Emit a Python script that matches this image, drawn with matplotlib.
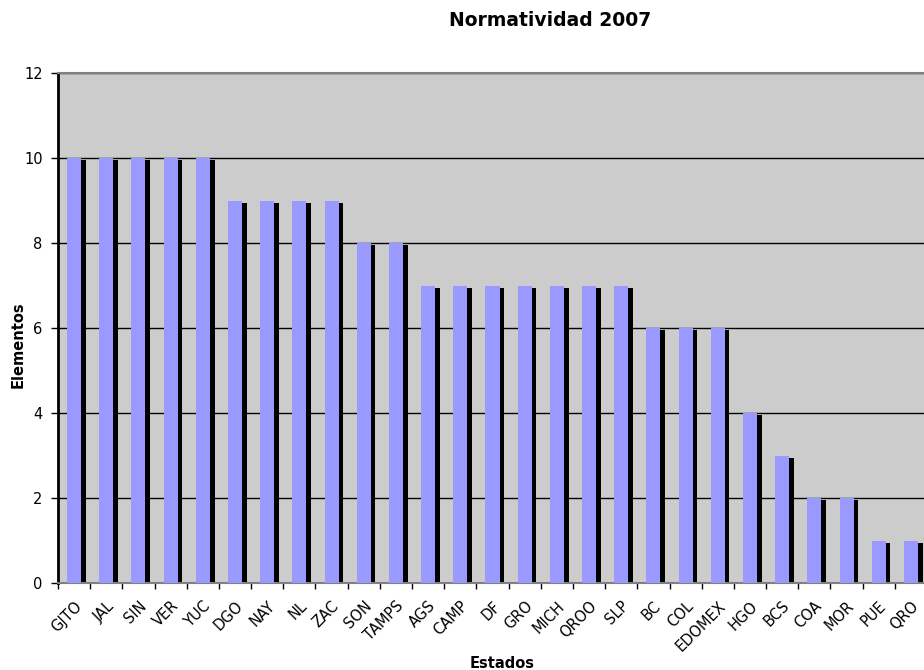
import numpy as np
import matplotlib
matplotlib.use('Agg')
import matplotlib.pyplot as plt
from matplotlib.transforms import offset_copy

estados = ['GJTO', 'JAL', 'SIN', 'VER', 'YUC', 'DGO', 'NAY', 'NL', 'ZAC', 'SON',
           'TAMPS', 'AGS', 'CAMP', 'DF', 'GRO', 'MICH', 'QROO', 'SLP', 'BC', 'COL',
           'EDOMEX', 'HGO', 'BCS', 'COA', 'MOR', 'PUE', 'QRO']
elementos = [10, 10, 10, 10, 10, 9, 9, 9, 9, 8,
             8, 7, 7, 7, 7, 7, 7, 7, 6, 6,
             6, 4, 3, 2, 2, 1, 1]
y_ticks = [0, 2, 4, 6, 8, 10, 12]

plt.rcParams['font.family'] = 'DejaVu Sans'

fig = plt.figure(figsize=(9.24, 6.70), dpi=100)
# plot area runs slightly past the right edge of the figure, as in the original
ax = fig.add_axes([58 / 924, 87 / 670, 869 / 924, 510 / 670])
ax.set_facecolor('#CCCCCC')

x = np.arange(len(estados))
shadow = offset_copy(ax.transData, fig=fig, x=4.7, y=-2, units='dots')
ax.bar(x, elementos, width=0.435, color='black', transform=shadow, zorder=2)
ax.bar(x, elementos, width=0.435, color='#9999FF', zorder=3)

ax.set_xlim(-0.5, len(estados) - 0.5)
ax.set_ylim(0, 12)
ax.set_yticks(y_ticks)
ax.yaxis.grid(True, color='black', linewidth=1)
ax.set_axisbelow(True)

ax.set_xticks(np.arange(len(estados) + 1) - 0.5)
ax.set_xticklabels([])
ax.set_xticks(x, minor=True)
ax.set_xticklabels(estados, minor=True, rotation=45, ha='right', rotation_mode='anchor')
ax.tick_params(axis='x', which='minor', length=0, pad=11, labelsize=10.5)
ax.tick_params(axis='x', which='major', length=4, width=1, direction='out')
ax.tick_params(axis='y', length=5, width=1, labelsize=10.5, pad=6)

for s in ['top', 'right', 'bottom']:
    ax.spines[s].set_color('#808080')
    ax.spines[s].set_linewidth(1.5)
ax.spines['left'].set_color('black')
ax.spines['left'].set_linewidth(2)

fig.text(550 / 924, 1 - 20 / 670, 'Normatividad 2007', ha='center', va='center',
         fontsize=13.5, fontweight='bold')
fig.text(502 / 924, 1 - 663 / 670, 'Estados', ha='center', va='center',
         fontsize=10.5, fontweight='bold')
fig.text(18 / 924, 1 - 345 / 670, 'Elementos', ha='center', va='center',
         rotation=90, fontsize=10.5, fontweight='bold')

fig.savefig('out.png', dpi=100)
